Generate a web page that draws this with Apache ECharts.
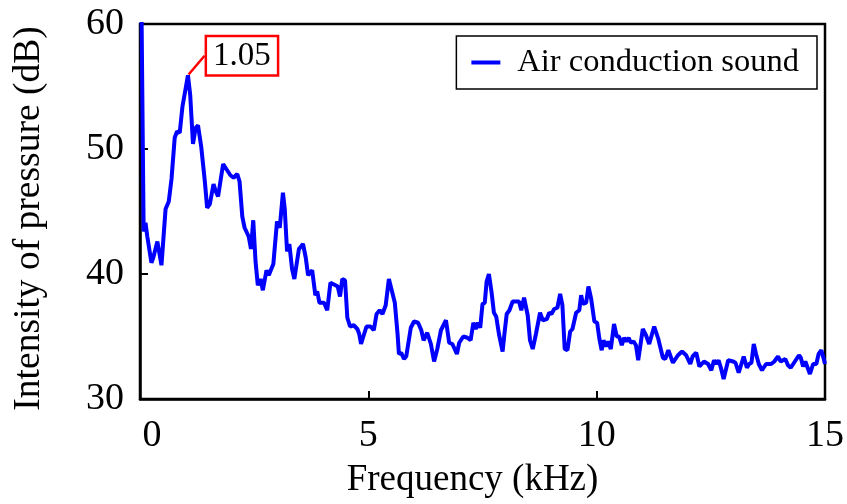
<!DOCTYPE html>
<html>
<head>
<meta charset="utf-8">
<script src="https://cdn.jsdelivr.net/npm/echarts@6/dist/echarts.min.js"></script>
<style>
  html, body { margin: 0; padding: 0; background: #fff; }
  #chart { width: 847px; height: 504px; }
</style>
</head>
<body>
<div id="chart"></div>
<script>
// Frequency axis (kHz) and measured sound pressure level (dB)
const freqKHz = [
  0.02, 0.08, 0.12, 0.16, 0.25, 0.29, 0.38, 0.47, 0.56, 0.63,
  0.69, 0.76, 0.81, 0.87, 0.93, 1.05, 1.10, 1.16, 1.22, 1.27,
  1.34, 1.42, 1.47, 1.53, 1.61, 1.66, 1.71, 1.82, 1.89, 1.98,
  2.05, 2.13, 2.18, 2.24, 2.29, 2.38, 2.43, 2.48, 2.53, 2.58,
  2.64, 2.69, 2.77, 2.82, 2.92, 3.00, 3.06, 3.13, 3.17, 3.22,
  3.27, 3.33, 3.38, 3.48, 3.57, 3.63, 3.68, 3.77, 3.84, 3.88,
  3.93, 4.03, 4.10, 4.17, 4.28, 4.33, 4.38, 4.43, 4.49, 4.54,
  4.60, 4.68, 4.76, 4.80, 4.84, 4.88, 4.96, 5.05, 5.12, 5.18,
  5.25, 5.31, 5.38, 5.45, 5.49, 5.58, 5.64, 5.67, 5.72, 5.78,
  5.83, 5.93, 6.00, 6.09, 6.16, 6.21, 6.29, 6.37, 6.44, 6.51,
  6.59, 6.70, 6.77, 6.84, 6.94, 6.99, 7.08, 7.17, 7.24, 7.30,
  7.35, 7.40, 7.45, 7.50, 7.55, 7.59, 7.64, 7.70, 7.75, 7.80,
  7.86, 7.94, 7.98, 8.03, 8.09, 8.16, 8.23, 8.30, 8.35, 8.41,
  8.49, 8.54, 8.60, 8.67, 8.76, 8.82, 8.91, 8.96, 9.01, 9.07,
  9.14, 9.20, 9.25, 9.30, 9.36, 9.42, 9.47, 9.55, 9.62, 9.66,
  9.70, 9.77, 9.82, 9.88, 9.95, 10.01, 10.06, 10.11, 10.15, 10.20,
  10.25, 10.31, 10.38, 10.44, 10.49, 10.55, 10.60, 10.65, 10.70, 10.75,
  10.81, 10.86, 10.91, 11.01, 11.08, 11.15, 11.26, 11.35, 11.45, 11.50,
  11.57, 11.67, 11.78, 11.87, 11.96, 12.05, 12.10, 12.18, 12.25, 12.35,
  12.44, 12.51, 12.57, 12.62, 12.67, 12.72, 12.78, 12.88, 12.99, 13.04,
  13.11, 13.22, 13.29, 13.34, 13.39, 13.44, 13.49, 13.55, 13.62, 13.71,
  13.82, 13.89, 13.97, 14.03, 14.08, 14.13, 14.19, 14.25, 14.34, 14.43,
  14.47, 14.52, 14.57, 14.67, 14.74, 14.81, 14.86, 14.92, 14.98, 15.00
];

const levelDB = [
  66.0, 43.4, 44.1, 43.0, 40.9, 41.3, 42.6, 40.7, 45.2, 45.8,
  47.6, 50.9, 51.4, 51.3, 53.4, 55.9, 54.3, 50.4, 51.7, 51.9,
  50.2, 47.4, 45.3, 45.6, 47.2, 46.6, 46.2, 48.8, 48.4, 47.9,
  47.7, 48.0, 47.4, 44.6, 43.7, 43.0, 42.0, 44.3, 41.0, 39.1,
  39.6, 38.7, 40.3, 39.9, 40.8, 44.2, 43.7, 46.5, 45.2, 41.8,
  42.4, 40.4, 39.6, 42.0, 42.4, 41.3, 39.9, 40.3, 38.3, 38.6,
  37.7, 37.7, 37.1, 39.3, 39.1, 39.0, 38.2, 39.6, 39.5, 36.5,
  35.8, 35.9, 35.6, 35.2, 34.4, 34.4, 35.8, 35.8, 35.5, 36.8,
  37.1, 36.8, 37.5, 39.6, 39.5, 37.7, 35.2, 33.6, 33.7, 33.2,
  33.4, 35.7, 36.2, 36.1, 35.5, 34.7, 35.3, 34.4, 33.0, 34.0,
  35.5, 36.3, 34.5, 34.4, 33.6, 34.5, 35.0, 34.9, 34.7, 36.1,
  35.6, 36.1, 35.7, 37.6, 37.7, 39.4, 40.0, 38.5, 36.9, 36.6,
  35.2, 33.8, 35.2, 36.8, 37.1, 37.8, 37.8, 37.8, 37.1, 38.1,
  36.7, 34.7, 34.0, 35.2, 36.9, 36.3, 36.4, 36.9, 36.8, 37.2,
  37.3, 38.4, 37.5, 34.0, 33.9, 35.4, 35.6, 36.9, 37.1, 38.3,
  37.6, 37.7, 39.0, 38.0, 36.2, 36.1, 34.8, 33.9, 34.7, 34.2,
  34.6, 34.0, 36.0, 35.0, 35.0, 34.3, 34.9, 34.6, 34.9, 34.5,
  34.6, 34.3, 33.1, 35.6, 35.1, 34.4, 35.8, 34.8, 33.3, 33.2,
  33.9, 32.9, 33.5, 33.8, 33.5, 32.8, 33.4, 33.7, 32.6, 33.0,
  32.8, 32.3, 33.1, 32.8, 33.1, 32.5, 31.6, 33.1, 33.0, 32.9,
  32.1, 33.4, 32.5, 32.8, 32.9, 34.4, 33.6, 32.8, 32.3, 32.8,
  32.8, 33.0, 33.4, 33.0, 33.1, 33.2, 32.7, 32.5, 33.0, 33.5,
  33.3, 32.6, 33.0, 32.0, 32.8, 32.8, 33.6, 33.9, 33.1, 32.8
];

// Axis ranges and ticks
const xRange = [0, 15];
const xStep = 5;
const yRange = [30, 60];
const yStep = 10;

const seriesName = 'Air conduction sound';
const xTitle = 'Frequency (kHz)';
const yTitle = 'Intensity of pressure (dB)';

// Annotated spectral peak
const peakFreq = 1.05;
const peakText = '1.05';

const FONT = '"Liberation Serif", "Times New Roman", serif';

const peakIndex = freqKHz.indexOf(peakFreq);
const peakLevel = levelDB[peakIndex];
const spectrum = freqKHz.map(function (f, i) { return [f, levelDB[i]]; });

const chart = echarts.init(document.getElementById('chart'), null, { renderer: 'canvas' });

chart.setOption({
  animation: false,
  backgroundColor: '#fff',
  grid: {
    left: 140, right: 22, top: 24, bottom: 86,
    show: true,
    borderColor: '#000',
    borderWidth: 2.5,
    backgroundColor: 'transparent'
  },
  legend: {
    right: 30,
    top: 36,
    data: [seriesName],
    backgroundColor: '#fff',
    borderColor: '#000',
    borderWidth: 1.5,
    borderRadius: 0,
    padding: [10, 18, 10, 15],
    icon: 'rect',
    itemWidth: 29,
    itemHeight: 4,
    textStyle: {
      fontFamily: FONT,
      fontSize: 32.5,
      color: '#000',
      padding: [0, 0, 0, 12]
    }
  },
  xAxis: {
    type: 'value',
    min: xRange[0],
    max: xRange[1],
    interval: xStep,
    name: xTitle,
    nameLocation: 'middle',
    nameGap: 63,
    nameTextStyle: { fontFamily: FONT, fontSize: 37, color: '#000', padding: [0, 20, 0, 0] },
    axisLine: { show: true, onZero: false, lineStyle: { color: '#000', width: 2.5 } },
    axisTick: { show: true, inside: true, length: 8, lineStyle: { color: '#000', width: 2 } },
    splitLine: { show: false },
    axisLabel: {
      margin: 18,
      fontFamily: FONT,
      fontSize: 38,
      color: '#000',
      formatter: function (v) { return v === 0 ? '{z|0}' : String(v); },
      rich: { z: { fontFamily: FONT, fontSize: 38, color: '#000', padding: [0, 0, 0, 24] } }
    }
  },
  yAxis: {
    type: 'value',
    min: yRange[0],
    max: yRange[1],
    interval: yStep,
    name: yTitle,
    nameLocation: 'middle',
    nameGap: 92,
    nameTextStyle: { fontFamily: FONT, fontSize: 37.5, color: '#000', padding: [0, 14, 0, 0] },
    axisLine: { show: true, lineStyle: { color: '#000', width: 2.5 } },
    axisTick: { show: true, inside: true, length: 8, lineStyle: { color: '#000', width: 2 } },
    splitLine: { show: false },
    axisLabel: { margin: 16, fontFamily: FONT, fontSize: 38, color: '#000' }
  },
  series: [{
    name: seriesName,
    type: 'line',
    data: spectrum,
    showSymbol: false,
    symbol: 'none',
    clip: true,
    color: '#0000ff',
    lineStyle: { color: '#0000ff', width: 4 },
    z: 3
  }, {
    // peak marker: transparent point carrying the boxed frequency label
    name: 'peak',
    type: 'scatter',
    data: [[peakFreq, peakLevel]],
    symbol: 'circle',
    symbolSize: 2,
    itemStyle: { color: 'rgba(0,0,0,0)', opacity: 1 },
    silent: true,
    z: 5,
    label: {
      show: true,
      formatter: peakText,
      position: 'top',
      color: '#000',
      fontFamily: FONT,
      fontSize: 33,
      backgroundColor: '#fff',
      borderColor: '#ff0000',
      borderWidth: 2.5,
      padding: [3, 6, 1, 6]
    },
    labelLine: { show: true, lineStyle: { color: '#ff0000', width: 2.5 } },
    labelLayout: { dx: 54, dy: 5 }
  }]
});
</script>
</body>
</html>
